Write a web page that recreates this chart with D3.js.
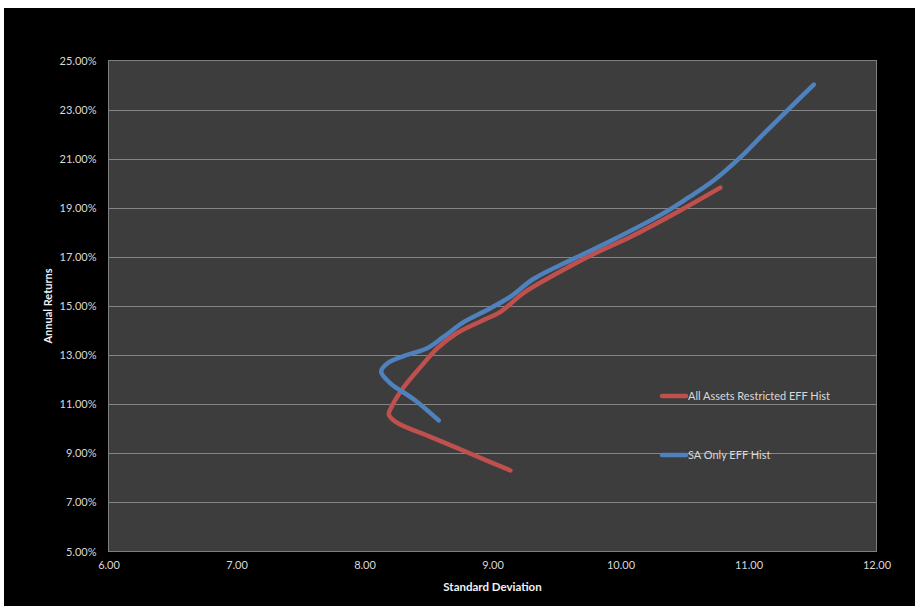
<!DOCTYPE html>
<html>
<head>
<meta charset="utf-8">
<script src="https://cdn.jsdelivr.net/npm/d3@7"></script>
<style>
  html, body { margin: 0; padding: 0; background: #ffffff; }
  svg { display: block; }
</style>
</head>
<body>
<svg id="chart" width="915" height="606"></svg>
<script>
// Efficient frontier: annual return (%) against standard deviation
const xTicks = [6, 7, 8, 9, 10, 11, 12];
const yTicks = [5, 7, 9, 11, 13, 15, 17, 19, 21, 23, 25];

const seriesNames = ["All Assets Restricted EFF Hist", "SA Only EFF Hist"];

const allAssetsSD = [9.14, 8.83, 8.52, 8.25, 8.19, 8.22, 8.31, 8.44, 8.57, 8.72, 8.93, 9.06, 9.24, 9.48, 9.77, 10.08, 10.47, 10.78];
const allAssetsRet = [8.30, 8.98, 9.66, 10.26, 10.58, 10.98, 11.72, 12.53, 13.28, 13.89, 14.43, 14.75, 15.52, 16.26, 17.07, 17.82, 18.90, 19.82];

const saOnlySD = [8.58, 8.39, 8.20, 8.13, 8.18, 8.31, 8.49, 8.62, 8.78, 8.98, 9.14, 9.32, 9.64, 9.95, 10.31, 10.52, 10.73, 10.94, 11.12, 11.33, 11.51];
const saOnlyRet = [10.34, 11.18, 11.86, 12.33, 12.67, 12.97, 13.28, 13.75, 14.36, 14.90, 15.38, 16.10, 16.94, 17.72, 18.70, 19.38, 20.12, 21.07, 22.02, 23.10, 24.02];

const colors = ["#C0504D", "#4F81BD"];

const svg = d3.select("#chart");
const font = "Lato, 'Open Sans', sans-serif";

// page frame
svg.append("rect").attr("x", 4).attr("y", 8).attr("width", 911).attr("height", 598).attr("fill", "#000000");

const plot = { left: 108.5, right: 876.5, top: 60.5, bottom: 551.5 };

const x = d3.scaleLinear().domain([6, 12]).range([plot.left, plot.right]);
const y = d3.scaleLinear().domain([5, 25]).range([plot.bottom, plot.top]);

// plot area
svg.append("rect")
  .attr("x", plot.left).attr("y", plot.top)
  .attr("width", plot.right - plot.left).attr("height", plot.bottom - plot.top)
  .attr("fill", "#3d3d3d");

// horizontal gridlines
svg.append("g")
  .selectAll("line")
  .data(yTicks.slice(1, -1))
  .join("line")
  .attr("x1", plot.left).attr("x2", plot.right)
  .attr("y1", d => Math.round(y(d)) + 0.5).attr("y2", d => Math.round(y(d)) + 0.5)
  .attr("stroke", "#858585").attr("stroke-width", 1);

// plot border
svg.append("rect")
  .attr("x", plot.left).attr("y", plot.top)
  .attr("width", plot.right - plot.left).attr("height", plot.bottom - plot.top)
  .attr("fill", "none").attr("stroke", "#7f7f7f").attr("stroke-width", 1);

// y axis
const yAxis = d3.axisLeft(y).tickValues(yTicks).tickSize(0).tickPadding(12)
  .tickFormat(d => d.toFixed(2) + "%");
const yg = svg.append("g").attr("transform", `translate(${plot.left},0)`).call(yAxis);
yg.select(".domain").remove();
yg.selectAll("text").attr("fill", "#d9d9d9").style("font-family", font).style("font-size", "11px");

// x axis
const xAxis = d3.axisBottom(x).tickValues(xTicks).tickSize(0).tickPadding(10)
  .tickFormat(d => d.toFixed(2));
const xg = svg.append("g").attr("transform", `translate(0,${plot.bottom})`).call(xAxis);
xg.select(".domain").remove();
xg.selectAll("text").attr("fill", "#d9d9d9").style("font-family", font).style("font-size", "11px");

// axis titles
svg.append("text")
  .attr("x", (plot.left + plot.right) / 2).attr("y", 591)
  .attr("text-anchor", "middle")
  .attr("fill", "#f2f2f2").style("font-family", font).style("font-size", "11.5px").style("font-weight", "bold")
  .text("Standard Deviation");

svg.append("text")
  .attr("transform", `translate(52,${(plot.top + plot.bottom) / 2}) rotate(-90)`)
  .attr("text-anchor", "middle")
  .attr("fill", "#f2f2f2").style("font-family", font).style("font-size", "11px").style("font-weight", "bold")
  .text("Annual Returns");

// series lines
const series = [
  { sd: allAssetsSD, ret: allAssetsRet },
  { sd: saOnlySD, ret: saOnlyRet }
];
const line = d3.line()
  .x(d => x(d[0]))
  .y(d => y(d[1]))
  .curve(d3.curveCatmullRom.alpha(0.5));

series.forEach((s, i) => {
  const pts = s.sd.map((v, k) => [v, s.ret[k]]);
  svg.append("path")
    .datum(pts)
    .attr("d", line)
    .attr("fill", "none")
    .attr("stroke", colors[i])
    .attr("stroke-width", 4.5)
    .attr("stroke-linecap", "round")
    .attr("stroke-linejoin", "round");
});

// legend
const legendY = [396, 455];
const legend = svg.append("g");
seriesNames.forEach((name, i) => {
  legend.append("line")
    .attr("x1", 662).attr("x2", 686)
    .attr("y1", legendY[i]).attr("y2", legendY[i])
    .attr("stroke", colors[i]).attr("stroke-width", 4.5).attr("stroke-linecap", "round");
  legend.append("text")
    .attr("x", 688).attr("y", legendY[i] + 4)
    .attr("fill", "#d9d9d9").style("font-family", font).style("font-size", "11px")
    .text(name);
});
</script>
</body>
</html>
